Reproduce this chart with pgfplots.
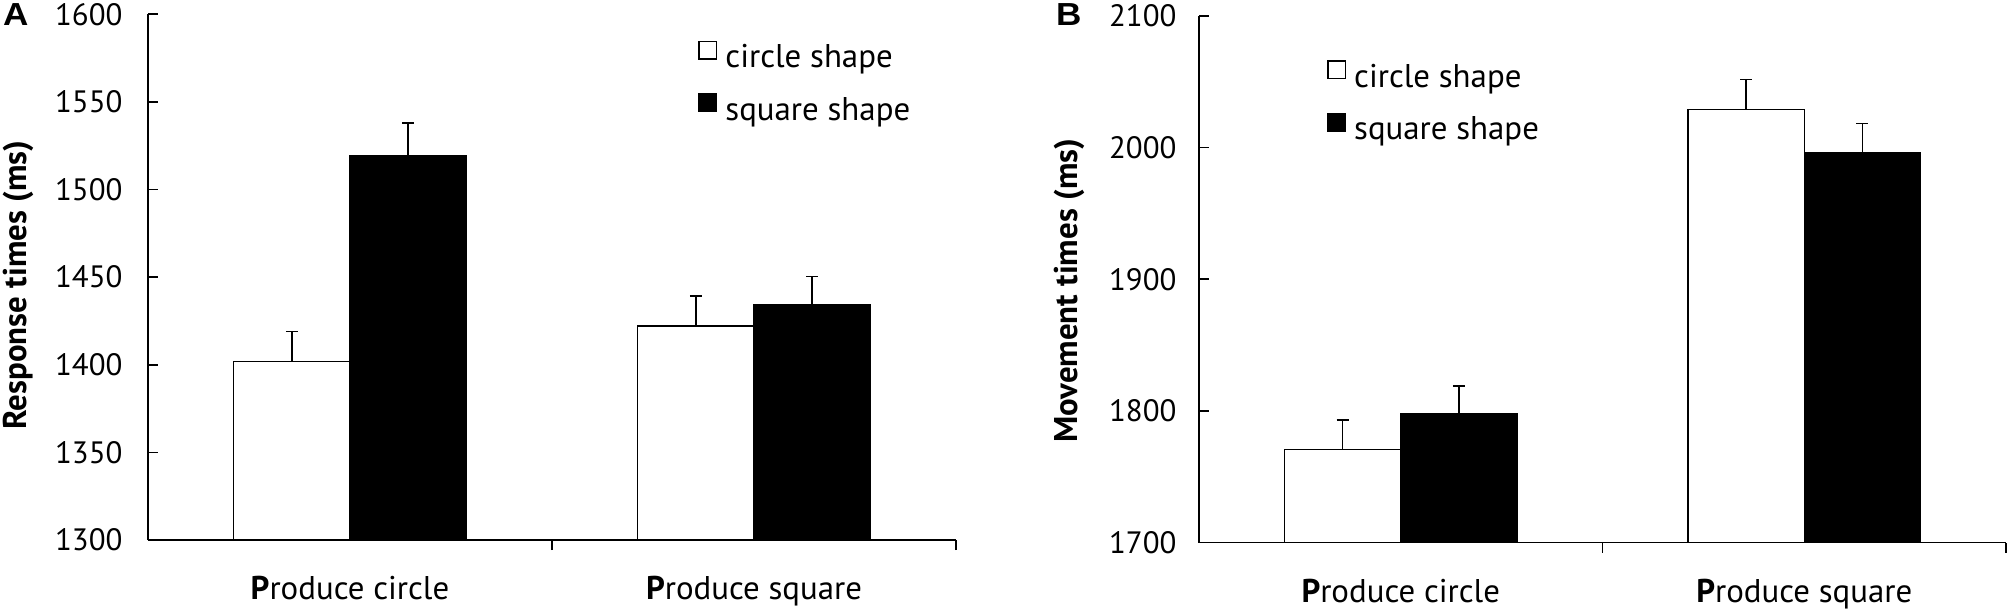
\documentclass[border=0pt]{standalone}
\usepackage{fontspec}
\setmainfont{PT Sans}
\newfontfamily\panelfont{Liberation Sans}[FakeStretch=1.1]
\usepackage{pgfplots}
\pgfplotsset{compat=1.18}

\pgfplotsset{
  myaxis/.style={
    scale only axis,
    anchor=south west,
    xmin=0, xmax=2,
    clip=false,
    axis x line=bottom, axis y line=left,
    axis line style={-, line width=1.6bp, black},
    tick align=inside,
    major tick length=10bp,
    tick style={line width=1.6bp, black},
    xtick={1,2}, xticklabels={},
    extra x ticks={0.5,1.5},
    extra x tick labels={\textbf{P}roduce circle,\textbf{P}roduce square},
    extra x tick style={major tick length=0pt},
    xticklabel style={font=\fontsize{33}{38}\selectfont, yshift=-33bp},
    /pgf/number format/assume math mode=true,
    /pgf/number format/1000 sep={},
    ybar, bar width=0.288, bar shift=0,
    ylabel style={font=\bfseries\fontsize{33}{38}\selectfont, anchor=center},
    legend style={draw=none, fill=none, inner sep=0pt, anchor=north west,
      font=\fontsize{33}{38}\selectfont, row sep=22bp,
      /tikz/every even column/.append style={column sep=0bp}},
    legend cell align=left,
  },
  whitebar/.style={
    legend image code/.code={\draw[fill=white,draw=black,line width=1.5bp] (0bp,-2bp) rectangle (17.5bp,15.5bp);},
    fill=white, draw=black, line width=1.5bp,
    error bars/.cd, y dir=plus, y explicit,
    error bar style={line width=1.5bp, black},
    error mark options={rotate=90, mark size=6bp, line width=1.5bp, black}},
  blackbar/.style={
    legend image code/.code={\draw[fill=black,draw=black,line width=1.5bp] (0bp,-2bp) rectangle (17.5bp,15.5bp);},
    fill=black, draw=black, line width=1.5bp,
    error bars/.cd, y dir=plus, y explicit,
    error bar style={line width=1.5bp, black},
    error mark options={rotate=90, mark size=6bp, line width=1.5bp, black}},
}

\begin{document}
\begin{tikzpicture}
\path[use as bounding box] (0,0) rectangle (2008bp,610bp);

\node[anchor=base west, inner sep=0pt, font=\panelfont\bfseries\fontsize{32}{36}\selectfont] at (3bp,584bp) {A};
\node[anchor=base west, inner sep=0pt, font=\panelfont\bfseries\fontsize{32}{36}\selectfont] at (1056bp,584bp) {B};

\begin{axis}[myaxis,
  at={(148bp,70bp)}, width=808bp, height=525.7bp,
  ymin=1300, ymax=1600, ytick={1300,1350,...,1600},
  yticklabel style={font=\fontsize{31}{36}\selectfont, xshift=-22bp},
  ylabel={Response times (ms)},
  ylabel style={at={(rel axis cs:-0.161,0.485)}},
  legend style={at={(rel axis cs:0.681,0.95)}},
]
\addplot[whitebar]
  coordinates {(0.356,1402) +- (0,17) (1.356,1422) +- (0,17.3)};
\addlegendentry{\hspace{6bp}circle shape}
\addplot[blackbar]
  coordinates {(0.644,1519) +- (0,19) (1.644,1434) +- (0,16.5)};
\addlegendentry{\hspace{6bp}square shape}
\end{axis}

\begin{axis}[myaxis,
  at={(1199bp,67.5bp)}, width=807bp, height=526.5bp,
  ymin=1700, ymax=2100, ytick={1700,1800,...,2100},
  yticklabel style={font=\fontsize{31}{36}\selectfont, xshift=-19bp},
  ylabel={Movement times (ms)},
  ylabel style={at={(rel axis cs:-0.16,0.478)}},
  legend style={at={(rel axis cs:0.1586,0.9166)}},
]
\addplot[whitebar]
  coordinates {(0.356,1770.5) +- (0,22.5) (1.356,2029) +- (0,22.7)};
\addlegendentry{\hspace{6bp}circle shape}
\addplot[blackbar]
  coordinates {(0.644,1798) +- (0,21) (1.644,1996) +- (0,22.5)};
\addlegendentry{\hspace{6bp}square shape}
\end{axis}
\end{tikzpicture}
\end{document}
